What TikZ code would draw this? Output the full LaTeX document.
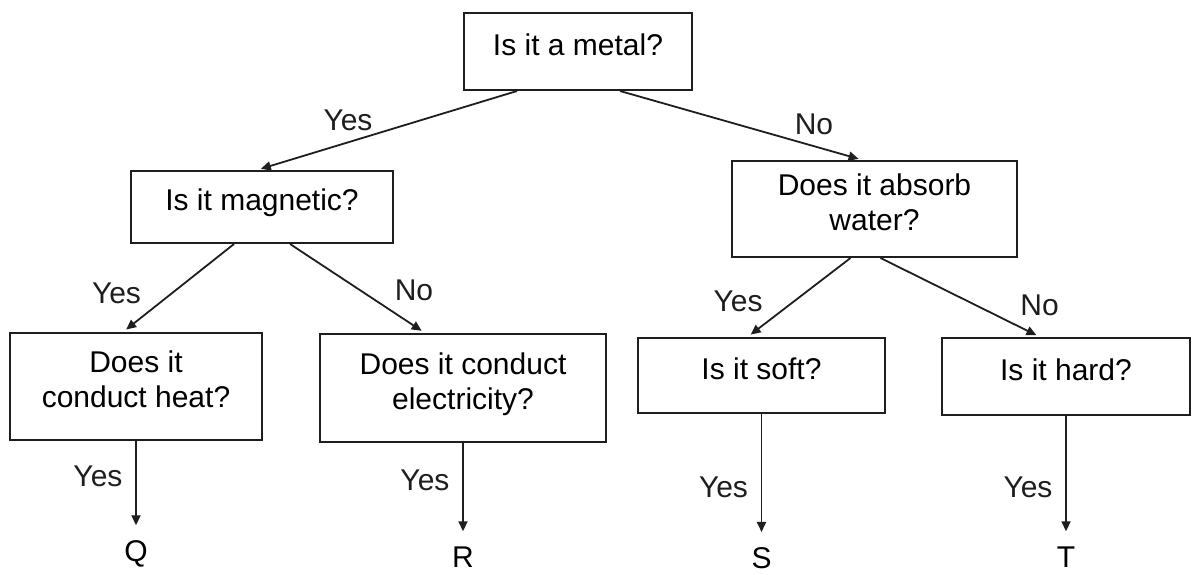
\documentclass[tikz,border=0pt]{standalone}
\usepackage{fontspec}
\setmainfont{Liberation Sans}
\usetikzlibrary{arrows.meta}
\definecolor{Ink}{HTML}{1E1E1E}

\begin{document}
\begin{tikzpicture}[x=0.5pt,y=-0.5pt,
      font=\fontsize{15}{17.5}\selectfont,
      link/.style={-{Triangle[length=5pt,width=4.5pt]},Ink,line width=0.9pt,
                   shorten >=2pt},
      question/.style={draw=Ink,line width=1pt,align=center,inner sep=0pt,
                       execute at end node={\rule[-7pt]{0pt}{7pt}}},
      leaf/.style={inner sep=5.5pt}]
    \useasboundingbox (0,0) rectangle (1193,574);
    % questions
    \node[question,minimum width=114pt,minimum height=38.5pt] (metal) at (578,51.5) {Is it a metal?};
    \node[question,minimum width=131pt,minimum height=36pt] (mag) at (262,207) {Is it magnetic?};
    \node[question,minimum width=142.5pt,minimum height=48pt] (water) at (874.5,209) {Does it absorb\\water?};
    \node[question,minimum width=126pt,minimum height=53.5pt] (heat) at (136,386.5) {Does it\\conduct heat?};
    \node[question,minimum width=143pt,minimum height=54pt] (elec) at (463,388) {Does it conduct\\electricity?};
    \node[question,minimum width=123.5pt,minimum height=37.5pt] (soft) at (761.5,375.5) {Is it soft?};
    \node[question,minimum width=124pt,minimum height=38.5pt] (hard) at (1066,376.5) {Is it hard?};
    % answers
    \node[leaf] (q) at (136,554) {Q};
    \node[leaf] (r) at (463,557) {R};
    \node[leaf] (s) at (761.5,558) {S};
    \node[leaf] (t) at (1066,557) {T};
    % branches
    \draw[link] ([xshift=-30.5pt]metal.south) -- node[pos=.65,above=2pt]{Yes} ([xshift=-2.5pt]mag.north);
    \draw[link] ([xshift=21pt]metal.south) -- node[pos=.8,above=2pt]{No} ([xshift=-6pt]water.north);
    \draw[link] ([xshift=-14pt]mag.south) -- node[pos=.77,above left]{Yes} ([xshift=-6.5pt]heat.north);
    \draw[link] ([xshift=14pt]mag.south) -- node[pos=.72,above right]{No} ([xshift=-19pt]elec.north);
    \draw[link] ([xshift=-12pt]water.south) -- node[pos=.78,above left]{Yes} ([xshift=-7pt]soft.north);
    \draw[link] ([xshift=3pt]water.south) -- node[pos=.83,above right]{No} ([xshift=-13pt]hard.north);
    \draw[link] (heat) -- node[pos=.4,left=3pt]{Yes} (q);
    \draw[link] (elec) -- node[pos=.4,left=3pt]{Yes} (r);
    \draw[link] (soft) -- node[pos=.6,left=3pt]{Yes} (s);
    \draw[link] (hard) -- node[pos=.6,left=3pt]{Yes} (t);
\end{tikzpicture}
\end{document}
